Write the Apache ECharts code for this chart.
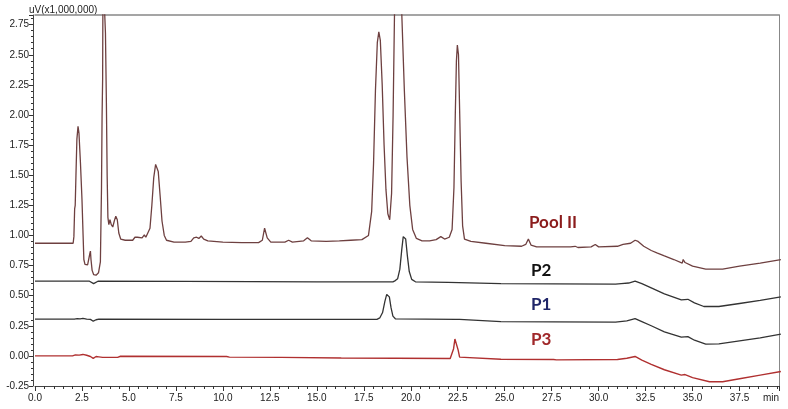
<!DOCTYPE html>
<html>
<head>
<meta charset="utf-8">
<script src="https://cdn.jsdelivr.net/npm/echarts@6/dist/echarts.min.js"></script>
<style>
html,body{margin:0;padding:0;background:#fff;}
#chart{width:788px;height:409px;}
</style>
</head>
<body>
<div id="chart"></div>
<script>
// Retention time (min) / signal (uV x 1,000,000) pairs
var poolII = [[0.00,0.935],[1.00,0.935],[2.03,0.935],[2.07,0.99],[2.11,1.22],[2.14,1.25],[2.18,1.5],[2.23,1.8],[2.29,1.905],[2.34,1.85],[2.42,1.6],[2.5,1.3],[2.56,1.0],[2.6,0.8],[2.66,0.76],[2.8,0.755],[2.88,0.76],[2.92,0.85],[2.95,0.87],[2.98,0.8],[3.04,0.71],[3.12,0.675],[3.25,0.67],[3.38,0.69],[3.48,0.78],[3.54,1.4],[3.57,1.99],[3.6,2.3],[3.62,3.2],[3.72,3.2],[3.75,2.68],[3.8,2.1],[3.84,1.5],[3.88,1.15],[3.93,1.09],[3.99,1.13],[4.06,1.09],[4.14,1.07],[4.22,1.12],[4.3,1.16],[4.38,1.13],[4.46,1.02],[4.56,0.97],[4.8,0.96],[5.2,0.96],[5.32,0.985],[5.45,0.985],[5.55,0.975],[5.7,0.98],[5.82,1.005],[5.9,0.985],[6.0,0.99],[6.12,1.06],[6.22,1.25],[6.32,1.48],[6.42,1.59],[6.48,1.6],[6.56,1.53],[6.66,1.33],[6.76,1.12],[6.88,1.0],[7.0,0.96],[7.4,0.945],[8.0,0.945],[8.3,0.95],[8.45,0.98],[8.6,0.985],[8.72,0.975],[8.85,0.995],[8.98,0.97],[9.2,0.955],[10.0,0.945],[11.0,0.94],[11.9,0.94],[12.1,0.96],[12.22,1.06],[12.36,0.98],[12.55,0.945],[13.3,0.945],[13.5,0.96],[13.7,0.945],[14.3,0.955],[14.5,0.98],[14.7,0.955],[15.5,0.95],[16.2,0.955],[16.8,0.96],[17.4,0.965],[17.75,1.0],[17.92,1.2],[18.02,1.6],[18.12,2.2],[18.22,2.6],[18.3,2.69],[18.38,2.62],[18.48,2.25],[18.58,1.75],[18.68,1.38],[18.78,1.18],[18.88,1.13],[18.98,1.35],[19.06,2.0],[19.14,2.9],[19.22,3.4],[19.42,3.4],[19.52,2.85],[19.66,2.2],[19.8,1.65],[19.95,1.25],[20.1,1.05],[20.3,0.975],[20.6,0.955],[21.0,0.955],[21.35,0.965],[21.6,0.99],[21.8,0.97],[22.05,0.985],[22.2,1.05],[22.3,1.4],[22.37,2.0],[22.43,2.45],[22.48,2.58],[22.54,2.5],[22.6,2.05],[22.68,1.45],[22.76,1.08],[22.86,0.97],[23.2,0.95],[24.0,0.935],[25.0,0.915],[25.9,0.91],[26.12,0.925],[26.26,0.97],[26.4,0.92],[26.7,0.905],[27.5,0.905],[28.5,0.905],[28.75,0.91],[28.9,0.9],[29.6,0.905],[29.82,0.925],[30.0,0.905],[31.0,0.91],[31.3,0.925],[31.7,0.935],[31.94,0.96],[32.1,0.95],[32.4,0.91],[32.8,0.875],[33.1,0.855],[33.15,0.862],[33.5,0.83],[34.0,0.8],[34.45,0.77],[34.5,0.8],[34.6,0.775],[35.0,0.745],[35.7,0.72],[36.6,0.72],[37.5,0.745],[38.6,0.77],[39.7,0.80]];

var p2 = [[0,0.62],[2.9,0.62],[3.0,0.61],[3.12,0.6],[3.22,0.612],[3.35,0.62],[8.0,0.618],[15.0,0.615],[19.05,0.615],[19.18,0.625],[19.3,0.64],[19.42,0.72],[19.52,0.88],[19.6,0.99],[19.66,1.005],[19.73,0.97],[19.82,0.83],[19.92,0.7],[20.05,0.635],[20.25,0.615],[22.0,0.61],[24.8,0.6],[27.6,0.598],[27.7,0.595],[30.9,0.595],[31.2,0.6],[31.6,0.605],[31.94,0.62],[32.3,0.6],[32.8,0.565],[33.5,0.515],[34.4,0.465],[34.75,0.47],[35.1,0.44],[35.6,0.41],[36.4,0.41],[37.5,0.435],[38.6,0.46],[39.7,0.49]];

var p1 = [[0,0.305],[2.1,0.305],[2.25,0.31],[2.4,0.308],[2.55,0.311],[2.75,0.306],[2.95,0.303],[3.1,0.288],[3.25,0.3],[3.4,0.305],[10,0.303],[18.2,0.303],[18.35,0.315],[18.5,0.36],[18.62,0.45],[18.72,0.51],[18.78,0.52],[18.86,0.49],[18.95,0.4],[19.05,0.33],[19.18,0.308],[22.4,0.303],[22.5,0.296],[22.6,0.303],[24.8,0.285],[27.6,0.283],[27.7,0.28],[30.9,0.28],[31.5,0.29],[31.94,0.31],[32.3,0.285],[32.8,0.25],[33.5,0.2],[34.4,0.155],[34.75,0.16],[35.1,0.13],[35.7,0.097],[36.4,0.1],[37.5,0.125],[38.6,0.15],[39.7,0.18]];

var p3 = [[0,0.0],[2.0,0.0],[2.15,0.008],[2.35,0.006],[2.55,0.012],[2.75,0.005],[2.95,-0.005],[3.1,-0.02],[3.25,-0.005],[3.4,-0.008],[3.6,-0.012],[4.4,-0.012],[4.55,-0.003],[10.2,-0.005],[10.35,-0.01],[13.1,-0.012],[13.2,-0.017],[16.3,-0.018],[16.4,-0.022],[22.1,-0.022],[22.2,-0.01],[22.28,0.06],[22.35,0.14],[22.39,0.155],[22.45,0.13],[22.52,0.05],[22.6,-0.01],[22.7,-0.022],[24.8,-0.028],[27.6,-0.03],[27.75,-0.033],[31.0,-0.03],[31.5,-0.02],[31.94,-0.005],[32.3,-0.035],[32.8,-0.07],[33.5,-0.115],[34.4,-0.16],[34.6,-0.155],[35.0,-0.18],[35.9,-0.215],[36.6,-0.215],[37.5,-0.19],[38.6,-0.16],[39.7,-0.13]];

var seriesNames = ['Pool II', 'P2', 'P1', 'P3'];
var yAxisTitle = 'uV(x1,000,000)';
var xAxisTitle = 'min';

var chart = echarts.init(document.getElementById('chart'), null, {renderer: 'canvas'});

function onStep(v, step) {
  var r = v / step;
  return Math.abs(r - Math.round(r)) < 1e-6;
}

var axisFont = {fontFamily: 'Liberation Sans, Arial, sans-serif', fontSize: 10, color: '#222'};
var tickStyle = {color: '#333', width: 1};

chart.setOption({
  animation: false,
  backgroundColor: '#ffffff',
  grid: {left: 35, right: 9, top: 15, bottom: 23, show: false, containLabel: false},
  xAxis: [{
    type: 'value', min: 0, max: 39.6, interval: 2.5,
    axisLine: {show: true, onZero: false, lineStyle: {color: '#444', width: 1}},
    axisTick: {show: true, length: 5, lineStyle: tickStyle},
    minorTick: {show: true, splitNumber: 5, length: 3, lineStyle: tickStyle},
    splitLine: {show: false},
    axisLabel: Object.assign({margin: 7, showMaxLabel: false, formatter: function (v) { return onStep(v, 2.5) ? v.toFixed(1) : ''; }}, axisFont)
  }, {
    type: 'value', position: 'top', min: 0, max: 39.6,
    axisLine: {show: true, onZero: false, lineStyle: {color: '#888', width: 1.5}},
    axisTick: {show: false}, axisLabel: {show: false}, splitLine: {show: false}
  }],
  yAxis: [{
    type: 'value', min: -0.25, max: 2.83, interval: 0.25, offset: 2,
    axisLine: {show: true, onZero: false, lineStyle: {color: '#444', width: 1}},
    axisTick: {show: true, length: 4, lineStyle: tickStyle},
    minorTick: {show: true, splitNumber: 5, length: 2, lineStyle: tickStyle},
    splitLine: {show: false},
    axisLabel: Object.assign({margin: 4, formatter: function (v) { return onStep(v, 0.25) ? v.toFixed(2) : ''; }}, axisFont)
  }, {
    type: 'value', position: 'right', min: -0.25, max: 2.83,
    axisLine: {show: true, onZero: false, lineStyle: {color: '#888', width: 1}},
    axisTick: {show: false}, axisLabel: {show: false}, splitLine: {show: false}
  }],
  graphic: [
    {type: 'text', left: 29, top: 5, style: {text: yAxisTitle, font: '10px Liberation Sans, Arial, sans-serif', fill: '#222'}},
    {type: 'text', left: 763, top: 393, style: {text: xAxisTitle, font: '10px Liberation Sans, Arial, sans-serif', fill: '#222'}},
    {type: 'text', left: 529, top: 214, style: {text: seriesNames[0], font: 'bold 17px Lato, sans-serif', fill: '#8b1c1c'}},
    {type: 'text', left: 531, top: 262, style: {text: seriesNames[1], font: 'bold 17px Lato, sans-serif', fill: '#111111'}},
    {type: 'text', left: 531, top: 296, style: {text: seriesNames[2], font: 'bold 17px Lato, sans-serif', fill: '#1f2568'}},
    {type: 'text', left: 531, top: 331, style: {text: seriesNames[3], font: 'bold 17px Lato, sans-serif', fill: '#a0282a'}}
  ],
  series: [
    {name: seriesNames[0], type: 'line', data: poolII, showSymbol: false, clip: true, lineStyle: {color: '#6e4040', width: 1.3}},
    {name: seriesNames[1], type: 'line', data: p2, showSymbol: false, clip: true, lineStyle: {color: '#333333', width: 1.3}},
    {name: seriesNames[2], type: 'line', data: p1, showSymbol: false, clip: true, lineStyle: {color: '#333333', width: 1.3}},
    {name: seriesNames[3], type: 'line', data: p3, showSymbol: false, clip: true, lineStyle: {color: '#b03030', width: 1.4}}
  ]
});
</script>
</body>
</html>
